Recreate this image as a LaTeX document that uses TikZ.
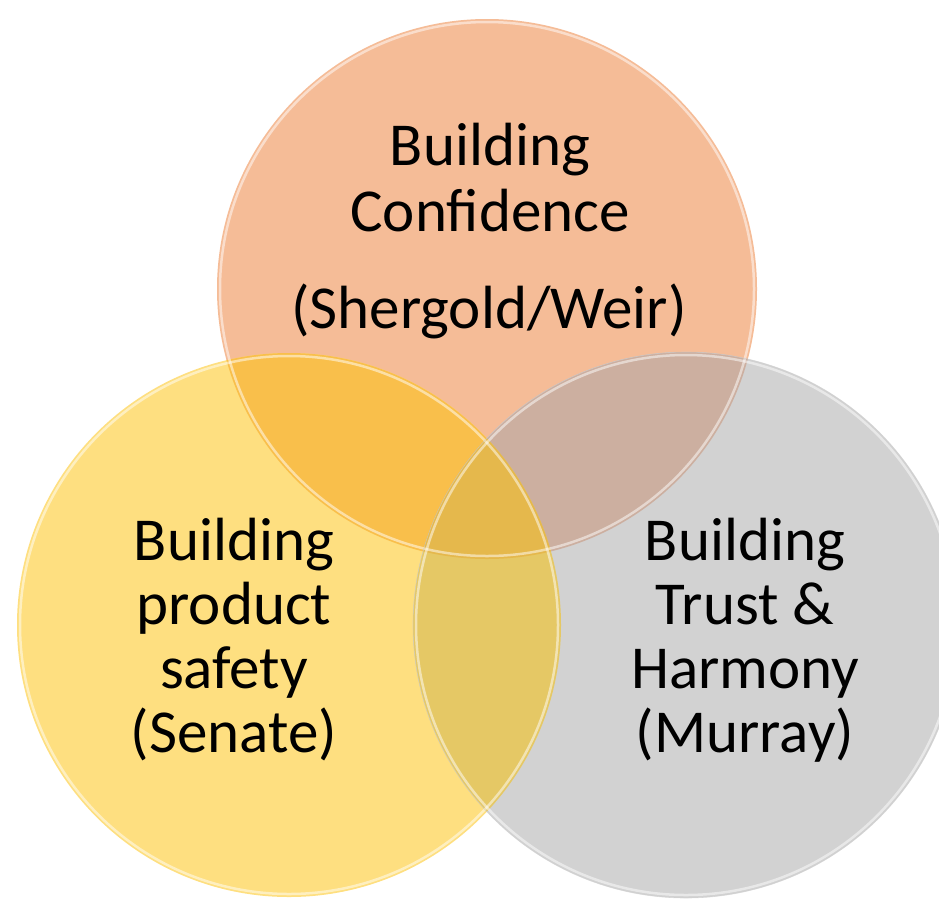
\documentclass[tikz,border=0pt]{standalone}
\usepackage{fontspec}
\setmainfont{Carlito}
\definecolor{cOr}{HTML}{F5BC97}
\definecolor{cYe}{HTML}{FEDF80}
\definecolor{cGr}{HTML}{D2D2D2}
\definecolor{cOY}{HTML}{F9BF4B}
\definecolor{cOG}{HTML}{CCAFA0}
\definecolor{cYG}{HTML}{E5C865}
\definecolor{cAll}{HTML}{E5B84C}
\tikzset{
  lbl/.style={anchor=base, inner sep=0pt, font=\fontsize{61}{66}\selectfont, text=black},
  rim/.style={draw=white, line width=2.5pt, opacity=0.5},
}
\begin{document}
\begin{tikzpicture}[x=1pt,y=-1pt]
\useasboundingbox (0,0) rectangle (939,900);
\begin{scope}
\clip (0,0) rectangle (939,900);
% base circles
\fill[cOr] (487,289) circle (270);
\fill[cYe] (289,625) circle (272);
\fill[cGr] (686,625) circle (273);
% pairwise overlaps
\begin{scope}
  \clip (487,289) circle (270);
  \fill[cOY] (289,625) circle (272);
  \fill[cOG] (686,625) circle (273);
\end{scope}
\begin{scope}
  \clip (289,625) circle (272);
  \fill[cYG] (686,625) circle (273);
\end{scope}
\begin{scope}
  \clip (487,289) circle (270);
  \clip (289,625) circle (272);
  \fill[cAll] (686,625) circle (273);
\end{scope}
% glossy rims
\draw[rim] (487,289) circle (267);
\draw[rim] (289,625) circle (269);
\draw[rim] (686,625) circle (270);
\draw[black!20, line width=0.6pt, opacity=0.6] (686,625) circle (273);
\end{scope}
% labels
\node[lbl] (t1) at (490,165) {Building};
\node[lbl] (t2) at (490,231) {Confidence};
\node[lbl] (t3) at (489,328) {(Shergold/Weir)};
\node[lbl] (l1) at (234,560) {Building};
\node[lbl] (l2) at (234,624) {product};
\node[lbl] (l3) at (234,688) {safety};
\node[lbl] (l4) at (234,752) {(Senate)};
\node[lbl] (r1) at (745,560) {Building};
\node[lbl] (r2) at (745,624) {Trust \&};
\node[lbl] (r3) at (745,688) {Harmony};
\node[lbl] (r4) at (745,752) {(Murray)};
\end{tikzpicture}
\end{document}
